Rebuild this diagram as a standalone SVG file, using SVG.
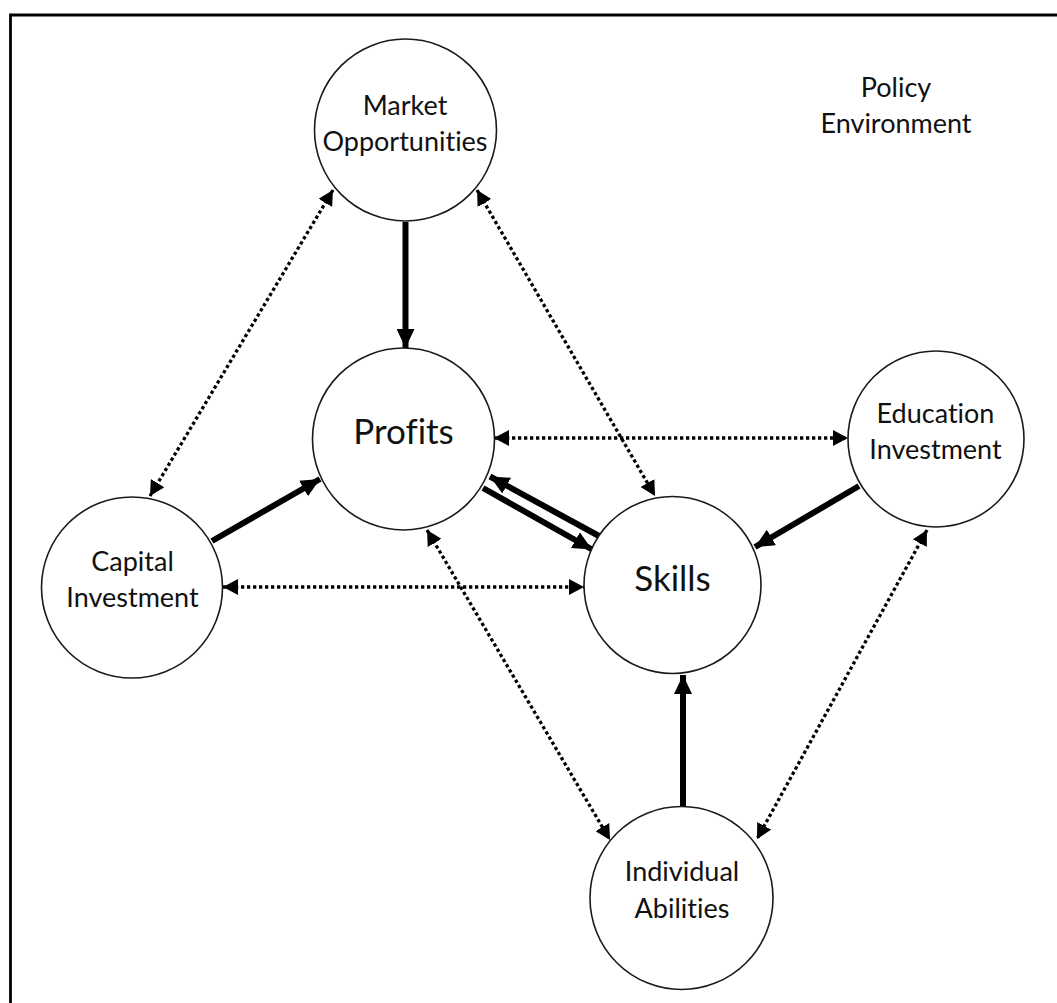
<svg xmlns="http://www.w3.org/2000/svg" width="1057" height="1003" viewBox="0 0 1057 1003">
<style>
.node circle{fill:#fff;stroke:#1a1a1a;stroke-width:1.6}
.lbl{font-family:Lato,"Liberation Sans",sans-serif;font-size:27px;fill:#111;text-anchor:middle;font-variant-ligatures:none;font-feature-settings:"liga" 0}
.big{font-size:35px}
.solid{stroke:#000;stroke-width:6;fill:none;marker-end:url(#ah)}
.dot{stroke:#000;stroke-width:3.3;stroke-dasharray:3.3 2.7;fill:none;marker-start:url(#dh);marker-end:url(#dh)}
</style>
<defs>
<marker id="ah" markerUnits="userSpaceOnUse" markerWidth="20" markerHeight="18" refX="19" refY="9" orient="auto" viewBox="0 0 20 18">
<path d="M0,0 L19,9 L0,18 z" fill="#000"/>
</marker>
<marker id="dh" markerUnits="userSpaceOnUse" markerWidth="16" markerHeight="16" refX="15" refY="8" orient="auto-start-reverse" viewBox="0 0 16 16">
<path d="M0,0 L15,8 L0,16 z" fill="#000"/>
</marker>
</defs>
<rect width="1057" height="1003" fill="#fff"/>
<g id="frame">
<path d="M10.5,1003 V15 H1057" fill="none" stroke="#000" stroke-width="2.8"/>
</g>
<g id="connectors">
<line class="solid" x1="405.5" y1="222" x2="405.5" y2="348"/>
<line class="solid" x1="212" y1="541" x2="320" y2="479"/>
<line class="solid" x1="483" y1="488" x2="592" y2="549.5"/>
<line class="solid" x1="599" y1="536" x2="490" y2="476.5"/>
<line class="solid" x1="859" y1="486" x2="755" y2="547"/>
<line class="solid" x1="683" y1="806" x2="683" y2="675"/>
<line class="dot" x1="333" y1="190" x2="150" y2="496"/>
<line class="dot" x1="477" y1="190" x2="655" y2="496"/>
<line class="dot" x1="494" y1="438" x2="848" y2="438"/>
<line class="dot" x1="223" y1="587" x2="584" y2="587"/>
<line class="dot" x1="427" y1="530" x2="610" y2="840"/>
<line class="dot" x1="927" y1="530" x2="757" y2="839"/>
</g>
<g id="market" class="node">
<circle cx="405.5" cy="130" r="91"/>
<text class="lbl" x="405" y="115">Market</text>
<text class="lbl" x="405" y="150.5">Opportunities</text>
</g>
<g id="profits" class="node">
<circle cx="403.5" cy="439" r="91"/>
<text class="lbl big" x="403.5" y="444">Profits</text>
</g>
<g id="capital" class="node">
<circle cx="132" cy="587.5" r="90.5"/>
<text class="lbl" x="132.5" y="571">Capital</text>
<text class="lbl" x="132.5" y="607">Investment</text>
</g>
<g id="skills" class="node">
<circle cx="672.5" cy="585" r="88.5"/>
<text class="lbl big" x="672.5" y="591">Skills</text>
</g>
<g id="education" class="node">
<circle cx="936" cy="439" r="88"/>
<text class="lbl" x="935.5" y="423">Education</text>
<text class="lbl" x="935.5" y="459">Investment</text>
</g>
<g id="individual" class="node">
<circle cx="681.5" cy="898" r="91.5"/>
<text class="lbl" x="682" y="880.5">Individual</text>
<text class="lbl" x="682" y="917.5">Abilities</text>
</g>
<g id="policy">
<text class="lbl" x="896" y="97">Policy</text>
<text class="lbl" x="896" y="133">Environment</text>
</g>
</svg>
